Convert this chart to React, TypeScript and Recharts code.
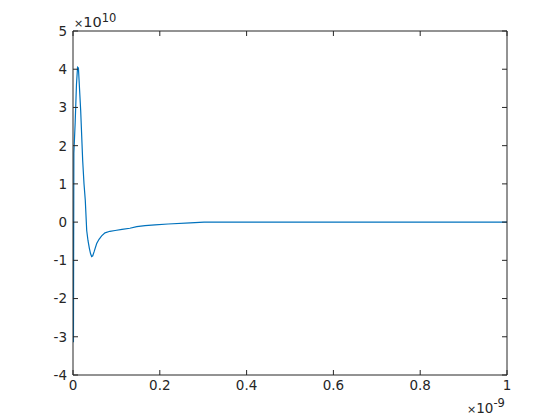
import React from "react";
import { LineChart, Line, XAxis, YAxis } from "recharts";

const timeE9 = [0, 0.001, 0.002, 0.005, 0.008, 0.0105, 0.0125, 0.0177, 0.0223, 0.0253, 0.0283, 0.0316, 0.0345, 0.0376, 0.0405, 0.043, 0.0455, 0.0485, 0.0546, 0.06, 0.066, 0.0737, 0.085, 0.097, 0.113, 0.131, 0.147, 0.166, 0.189, 0.219, 0.27, 0.302, 0.4, 0.6, 0.8, 1.0];
const valueE10 = [0, -3.14, 1.8, 2.6, 3.6, 4.05, 4.03, 2.92, 1.61, 1.01, 0.57, -0.22, -0.48, -0.68, -0.83, -0.9, -0.88, -0.78, -0.56, -0.45, -0.36, -0.28, -0.24, -0.22, -0.19, -0.16, -0.12, -0.09, -0.07, -0.05, -0.02, 0, 0, 0, 0, 0];
const xTicks = [0, 0.2, 0.4, 0.6, 0.8, 1];
const yTicks = [-4, -3, -2, -1, 0, 1, 2, 3, 4, 5];

const data = timeE9.map((t, i) => ({ t, v: valueE10[i] }));

const ink = "#262626";
const font = "DejaVu Sans, sans-serif";

const LeftTick = (p: any) => (
  <text x={p.x - 11} y={p.y} dy="0.36em" textAnchor="end" fill={ink} fontSize={13.5} fontFamily={font}>
    {String(p.payload.value)}
  </text>
);
const BottomTick = (p: any) => (
  <text x={p.x} y={p.y + 20} textAnchor="middle" fill={ink} fontSize={13.5} fontFamily={font}>
    {String(p.payload.value)}
  </text>
);
const NoTick = () => <g />;

export default function App() {
  return (
    <div style={{ position: "absolute", left: 0, top: 0, width: 560, height: 420, background: "#fff" }}>
      <LineChart width={560} height={420} data={data} margin={{ top: 31, right: 53, bottom: 45, left: 73 }}>
        <XAxis
          xAxisId="b"
          dataKey="t"
          type="number"
          domain={[0, 1]}
          ticks={xTicks}
          interval={0}
          height={1}
          mirror
          tickSize={5}
          tickMargin={0}
          stroke={ink}
          tick={BottomTick}
          allowDataOverflow
        />
        <XAxis
          xAxisId="t"
          dataKey="t"
          type="number"
          orientation="top"
          domain={[0, 1]}
          ticks={xTicks}
          interval={0}
          height={1}
          mirror
          tickSize={5}
          stroke={ink}
          tick={NoTick}
          allowDataOverflow
        />
        <YAxis
          yAxisId="l"
          type="number"
          domain={[-4, 5]}
          ticks={yTicks}
          interval={0}
          width={1}
          mirror
          tickSize={5}
          tickMargin={0}
          stroke={ink}
          tick={LeftTick}
          allowDataOverflow
        />
        <YAxis
          yAxisId="r"
          type="number"
          orientation="right"
          domain={[-4, 5]}
          ticks={yTicks}
          interval={0}
          width={1}
          mirror
          tickSize={5}
          stroke={ink}
          tick={NoTick}
          allowDataOverflow
        />
        <Line
          xAxisId="t"
          yAxisId="r"
          dataKey="v"
          stroke="transparent"
          dot={false}
          isAnimationActive={false}
        />
        <Line
          xAxisId="b"
          yAxisId="l"
          dataKey="v"
          type="linear"
          stroke="#0072BD"
          strokeWidth={1.2}
          dot={false}
          isAnimationActive={false}
        />
      </LineChart>
      <svg width={560} height={420} style={{ position: "absolute", left: 0, top: 0, pointerEvents: "none" }}>
        <text x={74} y={27} fill={ink} fontFamily={font}>
          <tspan fontSize={11}>×</tspan>
          <tspan fontSize={14.5}>10</tspan>
          <tspan fontSize={11.5} dy={-5.5}>10</tspan>
        </text>
        <text x={467} y={413} fill={ink} fontFamily={font}>
          <tspan fontSize={11}>×</tspan>
          <tspan fontSize={13.5}>10</tspan>
          <tspan fontSize={11.5} dy={-6}>-9</tspan>
        </text>
      </svg>
    </div>
  );
}
